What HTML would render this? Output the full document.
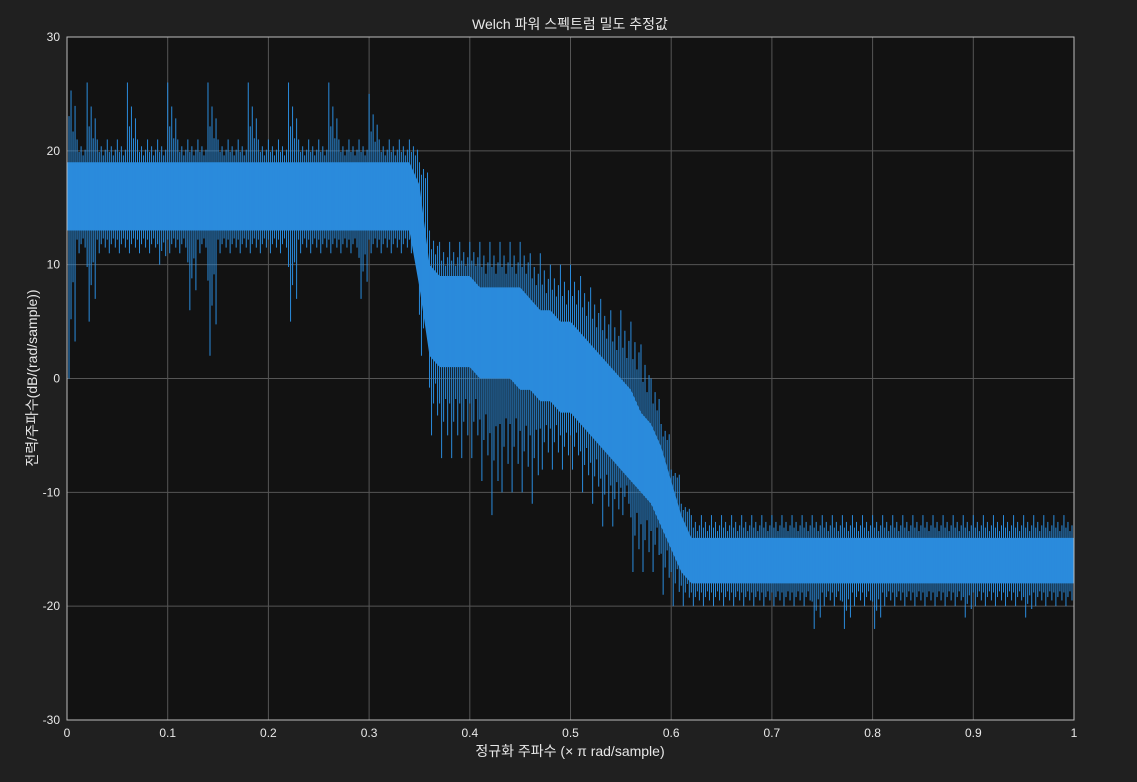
<!DOCTYPE html>
<html><head><meta charset="utf-8"><style>
html,body{margin:0;padding:0;background:#202020;}
svg{display:block;font-family:"Liberation Sans","Noto Sans CJK KR",sans-serif;}
</style></head><body>
<svg id="chart" width="1137" height="782" viewBox="0 0 1137 782">
<rect x="0" y="0" width="1137" height="782" fill="#202020"/>
<rect x="67" y="37" width="1007" height="683" fill="#121212"/>
<g id="grid"></g>
<g id="series"></g>
<rect x="67" y="37" width="1007" height="683" fill="none" stroke="#bdbdbd" stroke-width="1"/>
<g id="ticks"></g>
<text x="570" y="29" fill="#e8e8e8" font-size="14" text-anchor="middle">Welch 파워 스펙트럼 밀도 추정값</text>
<text x="570" y="756" fill="#e8e8e8" font-size="14" text-anchor="middle">정규화  주파수    (× π  rad/sample)</text>
<text transform="translate(37,378) rotate(-90)" fill="#e8e8e8" font-size="14" text-anchor="middle">전력/주파수(dB/(rad/sample))</text>
</svg>
<script>
const xTicks=[0,0.1,0.2,0.3,0.4,0.5,0.6,0.7,0.8,0.9,1];
const xTickLabels=["0","0.1","0.2","0.3","0.4","0.5","0.6","0.7","0.8","0.9","1"];
const yTicks=[-30,-20,-10,0,10,20,30];
const yTickLabels=["-30","-20","-10","0","10","20","30"];
const hiVals=[28,21,26,21,21,21,26,21,21,21,26,21,21,21,26,21,21,21,26,21,21,21,26,21,21,21,26,21,21,21,25,21,21,21,21,19,13,12,12,12,12,12,12,12,12,12,11,11,10,10,10,9,8,7,6,6,5,3,0,-4,-8,-11,-12,-12,-12,-12,-12,-12,-12,-12,-12,-12,-12,-12,-12,-12,-12,-12,-12,-12,-12,-12,-12,-12,-12,-12,-12,-12,-12,-12,-12,-12,-12,-12,-12,-12,-12,-12,-12,-12,-12];
const loVals=[0,11,5,11,11,11,11,11,11,10,11,11,6,11,2,11,11,11,11,11,11,11,5,11,11,11,11,11,11,7,11,11,11,11,11,2,-5,-7,-7,-7,-7,-9,-12,-10,-10,-10,-11,-8,-8,-8,-8,-10,-11,-13,-13,-12,-17,-17,-17,-19,-20,-20,-20,-20,-20,-20,-20,-20,-20,-20,-20,-20,-20,-20,-22,-20,-20,-22,-20,-20,-22,-20,-20,-20,-20,-20,-20,-20,-20,-21,-20,-20,-20,-20,-20,-21,-20,-20,-20,-20,-20];
const coreHi=[19,19,19,19,19,19,19,19,19,19,19,19,19,19,19,19,19,19,19,19,19,19,19,19,19,19,19,19,19,19,19,19,19,19,19,17,10,9,9,9,9,8,8,8,8,8,7,6,6,5,5,4,3,2,1,0,-1,-3,-4,-6,-9,-12,-14,-14,-14,-14,-14,-14,-14,-14,-14,-14,-14,-14,-14,-14,-14,-14,-14,-14,-14,-14,-14,-14,-14,-14,-14,-14,-14,-14,-14,-14,-14,-14,-14,-14,-14,-14,-14,-14,-14];
const coreLo=[13,13,13,13,13,13,13,13,13,13,13,13,13,13,13,13,13,13,13,13,13,13,13,13,13,13,13,13,13,13,13,13,13,13,13,8,2,1,1,1,1,0,0,0,0,-1,-1,-2,-2,-3,-3,-4,-5,-6,-7,-8,-9,-10,-11,-13,-15,-17,-18,-18,-18,-18,-18,-18,-18,-18,-18,-18,-18,-18,-18,-18,-18,-18,-18,-18,-18,-18,-18,-18,-18,-18,-18,-18,-18,-18,-18,-18,-18,-18,-18,-18,-18,-18,-18,-18,-18];
const NS="http://www.w3.org/2000/svg";
const X0=67,X1=1074,Y0=720,Y1=37;
function xs(v){return X0+(v-0)/(1-0)*(X1-X0);}
function ys(v){return Y0-(v+30)/60*(Y0-Y1);}
function mk(tag,attrs,parent){const e=document.createElementNS(NS,tag);for(const k in attrs)e.setAttribute(k,attrs[k]);parent.appendChild(e);return e;}
const gridG=document.getElementById('grid'),ticksG=document.getElementById('ticks'),serG=document.getElementById('series');
xTicks.forEach((t,i)=>{
 const l=mk('line',{x1:xs(t),x2:xs(t),y1:Y1,y2:Y0,stroke:'#555','stroke-width':1},gridG);
 
 
 const tx=mk('text',{x:xs(t),y:Y0+17,fill:'#e8e8e8','font-size':12,'text-anchor':'middle'},ticksG);
 tx.textContent=xTickLabels[i];
 
 
});
yTicks.forEach((t,i)=>{
 const l=mk('line',{x1:X0,x2:X1,y1:ys(t),y2:ys(t),stroke:'#555','stroke-width':1},gridG);
 
 
 const tx=mk('text',{x:X0-7,y:ys(t)+4,fill:'#e8e8e8','font-size':12,'text-anchor':'end'},ticksG);
 tx.textContent=yTickLabels[i];
 
 
});
const nBins=hiVals.length, binStep=1/(nBins-1);
const bandTop=[],bandBot=[];
for(let i=0;i<nBins;i++){const f=i*binStep;bandTop.push(xs(f)+','+ys(coreHi[i]));bandBot.unshift(xs(f)+','+ys(coreLo[i]));}
const poly=mk('polygon',{points:bandTop.concat(bandBot).join(' '),fill:'#2a8bdc'},serG);


const upFrac=[1,0.45,0.7,0.3,0.55];
const dnFrac=[0.4,1,0.6,0.35,0.75];
for(let i=0;i<nBins;i++){
 const f=i*binStep;
 for(let k=0;k<upFrac.length;k++){
  const fx=Math.min(1,f+k*binStep/upFrac.length);
  const up=coreHi[i]+(hiVals[i]-coreHi[i])*upFrac[k];
  const dn=coreLo[i]-(coreLo[i]-loVals[i])*dnFrac[k];
  const s=mk('line',{x1:xs(fx),x2:xs(fx),y1:ys(up),y2:ys(dn),stroke:'#2a8bdc','stroke-width':1},serG);
  
  
 }
}
</script>
</body></html>
